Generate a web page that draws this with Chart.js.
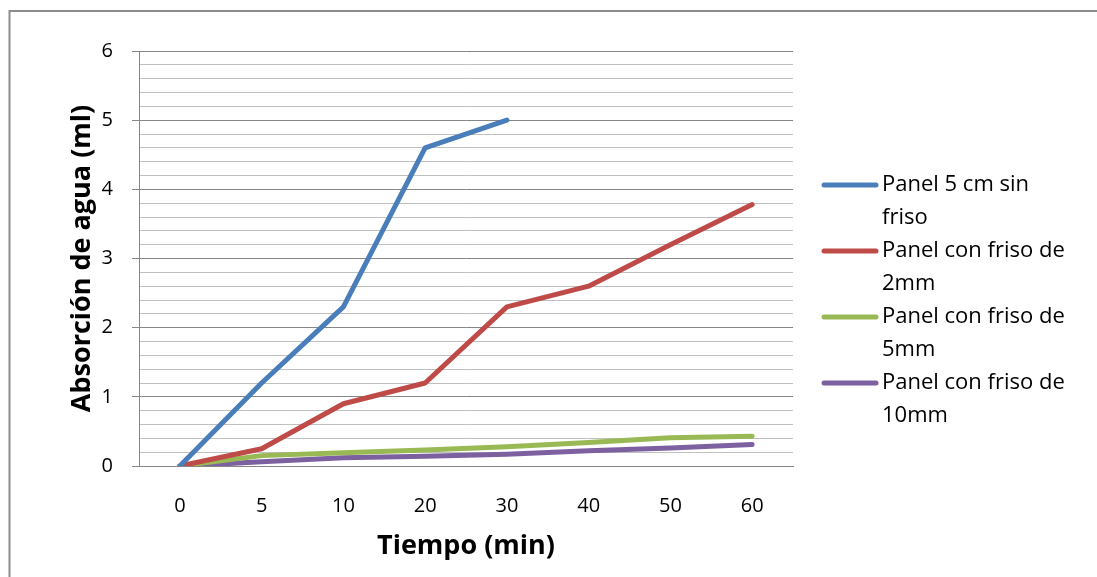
<!DOCTYPE html>
<html>
<head>
<meta charset="utf-8">
<script src="https://cdn.jsdelivr.net/npm/chart.js@4/dist/chart.umd.min.js"></script>
<style>
  html, body { margin: 0; padding: 0; background: #fff; }
  #wrap { position: relative; width: 1097px; height: 577px; }
</style>
</head>
<body>
<div id="wrap"><canvas id="c" width="1097" height="577"></canvas></div>
<script>
const categories = ['0', '5', '10', '20', '30', '40', '50', '60'];
const panelSinFriso = [0, 1.2, 2.3, 4.6, 5.0, null, null, null];
const friso2mm = [0, 0.25, 0.9, 1.2, 2.3, 2.6, 3.2, 3.78];
const friso5mm = [0, 0.15, 0.19, 0.23, 0.28, 0.34, 0.41, 0.43];
const friso10mm = [0, 0.06, 0.12, 0.14, 0.17, 0.22, 0.26, 0.31];
const seriesNames = [
  ['Panel 5 cm sin', 'friso'],
  ['Panel con friso de', '2mm'],
  ['Panel con friso de', '5mm'],
  ['Panel con friso de', '10mm']
];
const seriesColors = ['#4a7ebb', '#be4b48', '#98b954', '#7d60a0'];
const yTitle = 'Absorción de agua (ml)';
const xTitle = 'Tiempo (min)';

const FONT = "'Open Sans', 'Liberation Sans', sans-serif";

const frame = {
  id: 'frame',
  beforeDraw(chart) {
    const ctx = chart.ctx;
    ctx.save();
    ctx.strokeStyle = '#8c8c8c';
    ctx.lineWidth = 2;
    ctx.beginPath();
    ctx.moveTo(9.5, 577);
    ctx.lineTo(9.5, 11);
    ctx.lineTo(1097, 11);
    ctx.stroke();
    ctx.restore();
  }
};

const legendPlugin = {
  id: 'sideLegend',
  afterDraw(chart) {
    const ctx = chart.ctx;
    ctx.save();
    ctx.font = '22px ' + FONT;
    ctx.textBaseline = 'middle';
    ctx.textAlign = 'left';
    let y = 185;
    chart.data.datasets.forEach((ds, i) => {
      ctx.strokeStyle = ds.borderColor;
      ctx.lineWidth = 5;
      ctx.lineCap = 'round';
      ctx.beginPath();
      ctx.moveTo(824, y);
      ctx.lineTo(876, y);
      ctx.stroke();
      ctx.fillStyle = '#000';
      const lines = seriesNames[i];
      lines.forEach((t, j) => ctx.fillText(t, 882, y + j * 33));
      y += lines.length * 33;
    });
    ctx.restore();
  }
};

const isMajor = v => Math.abs(v - Math.round(v)) < 1e-6;

new Chart(document.getElementById('c'), {
  type: 'line',
  data: {
    labels: categories,
    datasets: [panelSinFriso, friso2mm, friso5mm, friso10mm].map((d, i) => ({
      label: seriesNames[i].join(' '),
      data: d,
      borderColor: seriesColors[i],
      backgroundColor: seriesColors[i],
      borderWidth: 5,
      pointRadius: 0,
      tension: 0,
      borderCapStyle: 'round',
      borderJoinStyle: 'round',
      spanGaps: false
    }))
  },
  options: {
    responsive: false,
    animation: false,
    devicePixelRatio: 1,
    layout: { padding: { top: 51, right: 304, left: 0, bottom: 0 } },
    plugins: { legend: { display: false }, tooltip: { enabled: false } },
    scales: {
      x: {
        type: 'category',
        offset: true,
        grid: { display: false, drawTicks: false },
        border: { display: true, color: '#868686', width: 1 },
        ticks: { color: '#000', font: { family: FONT, size: 20 }, padding: 28, maxRotation: 0 },
        title: { display: true, text: xTitle, color: '#000', font: { family: FONT, size: 27, weight: 'bold' }, padding: { top: 0, bottom: 14 } },
        afterFit(s) { s.height = 111; }
      },
      y: {
        min: 0, max: 6,
        ticks: {
          stepSize: 0.2, autoSkip: false, color: '#000',
          font: { family: FONT, size: 20 }, padding: 19,
          callback: v => isMajor(v) ? String(Math.round(v)) : ''
        },
        grid: {
          color: c => isMajor(c.tick.value) ? '#868686' : '#c0c0c0',
          tickColor: c => isMajor(c.tick.value) ? '#868686' : 'rgba(0,0,0,0)',
          tickLength: 7, lineWidth: 1
        },
        border: { display: true, color: '#868686', width: 1 },
        title: { display: true, text: yTitle, color: '#000', font: { family: FONT, size: 27, weight: 'bold' }, padding: { top: 66, bottom: 0 } },
        afterFit(s) { s.width = 139; }
      }
    }
  },
  plugins: [frame, legendPlugin]
});
</script>
</body>
</html>
